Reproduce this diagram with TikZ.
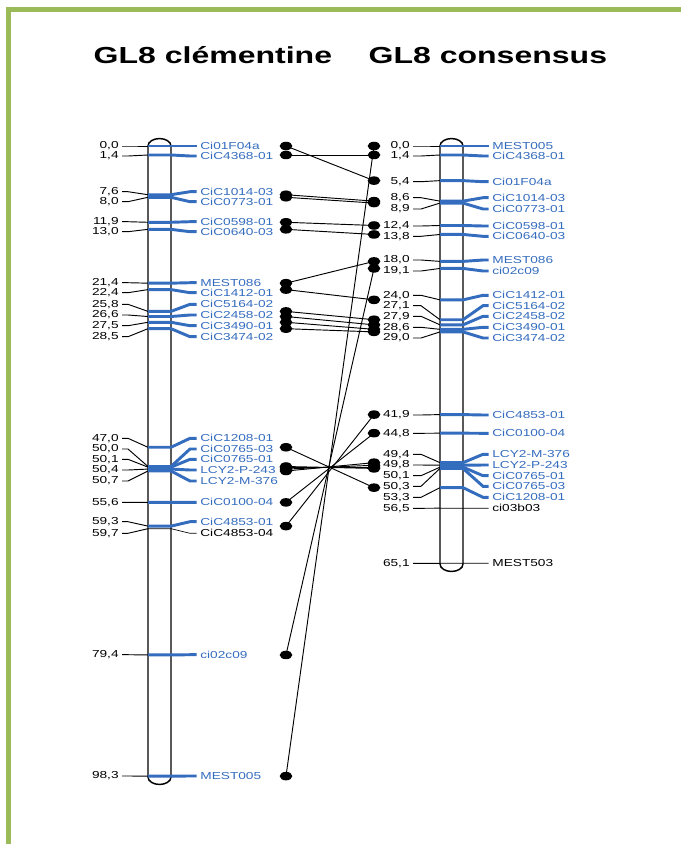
\documentclass[tikz,border=0pt]{standalone}
\usepackage{fontspec}
\setmainfont{Liberation Sans}
\usepackage{tikz}
\usetikzlibrary{shapes.geometric}
\definecolor{mapblue}{RGB}{52,108,190}
\definecolor{framegreen}{RGB}{155,187,89}

\begin{document}
\begin{tikzpicture}[x=0.75pt, y=-0.75pt,
	lbl/.style={font=\fontsize{7.6}{9}\selectfont, inner sep=0pt, xscale=1.35},
	num/.style={lbl, anchor=east},
	mkname/.style={lbl, anchor=west},
	maptitle/.style={font=\fontsize{17.4}{20}\selectfont\bfseries, inner sep=0pt, anchor=base west, xscale=1.38},
	chrom/.style={line width=1.1pt},
	tick/.style={line width=0.7pt},
	dot/.style={ellipse, fill=black, minimum width=9.5pt, minimum height=6.4pt, inner sep=0pt}]
	\useasboundingbox (0,0) rectangle (681,844);
	% frame
	\fill[framegreen] (6,7) rectangle (11,844);
	\fill[framegreen] (6,7) rectangle (681,12);
	% titles
	\node[maptitle] (title-cl) at (93.3,63.3) {GL8 clémentine};
	\node[maptitle] (title-cons) at (368.3,63.3) {GL8 consensus};
	% chromosomes
	\draw[chrom] (148,146) -- (148,777) arc[start angle=180, end angle=360, x radius=8.625pt, y radius=5.6pt]
		-- (171,146) arc[start angle=0, end angle=180, x radius=8.625pt, y radius=5.6pt] -- cycle;
	\draw[chrom] (440,146) -- (440,564) arc[start angle=180, end angle=360, x radius=8.625pt, y radius=5.6pt]
		-- (463,146) arc[start angle=0, end angle=180, x radius=8.625pt, y radius=5.6pt] -- cycle;
	% clementine markers
	\foreach \p/\ly/\lab/\mk/\col/\w in {
		0.0/146/{0,0}/Ci01F04a/mapblue/2.2pt, 1.4/156/{1,4}/CiC4368-01/mapblue/2.2pt,
		7.6/191.7/{7,6}/CiC1014-03/mapblue/2.2pt, 8.0/201.7/{8,0}/CiC0773-01/mapblue/2.2pt,
		11.9/221.7/{11,9}/CiC0598-01/mapblue/2.2pt, 13.0/231.7/{13,0}/CiC0640-03/mapblue/2.2pt,
		21.4/282.7/{21,4}/MEST086/mapblue/2.2pt, 22.4/292.7/{22,4}/CiC1412-01/mapblue/2.2pt,
		25.8/304.3/{25,8}/CiC5164-02/mapblue/2.2pt, 26.6/315/{26,6}/CiC2458-02/mapblue/2.2pt,
		27.5/325.7/{27,5}/CiC3490-01/mapblue/2.2pt, 28.5/336.7/{28,5}/CiC3474-02/mapblue/2.2pt,
		47.0/438.3/{47,0}/CiC1208-01/mapblue/2.2pt, 50.0/449/{50,0}/CiC0765-03/mapblue/2.2pt,
		50.1/459.3/{50,1}/CiC0765-01/mapblue/2.2pt, 50.4/470/{50,4}/LCY2-P-243/mapblue/2.2pt,
		50.7/481/{50,7}/LCY2-M-376/mapblue/2.2pt, 55.6/502.3/{55,6}/CiC0100-04/mapblue/2.2pt,
		59.3/521.7/{59,3}/CiC4853-01/mapblue/2.2pt, 59.7/533.3/{59,7}/CiC4853-04/black/0.5pt,
		79.4/654.7/{79,4}/ci02c09/mapblue/2.2pt, 98.3/776/{98,3}/MEST005/mapblue/2.2pt} {
		\pgfmathsetmacro\by{146+6.41*\p}
		\node[num] (lnum-\mk) at (119,\ly) {\lab};
		\node[mkname, text=\col] (lname-\mk) at (200,\ly) {\mk};
		\draw[tick] ([xshift=2.25pt]lnum-\mk.east) -- (128,\ly) -- (148,\by);
		\draw[\col, line width=\w] (148,\by) -- (171,\by) -- (190,\ly) -- ([xshift=-2.6pt]lname-\mk.west);
	}
	% consensus markers
	\foreach \p/\ly/\lab/\mk/\col/\w in {
		0.0/146/{0,0}/MEST005/mapblue/2.2pt, 1.4/156/{1,4}/CiC4368-01/mapblue/2.2pt,
		5.4/181.7/{5,4}/Ci01F04a/mapblue/2.2pt, 8.6/197.7/{8,6}/CiC1014-03/mapblue/2.2pt,
		8.9/209/{8,9}/CiC0773-01/mapblue/2.2pt, 12.4/226/{12,4}/CiC0598-01/mapblue/2.2pt,
		13.8/236.3/{13,8}/CiC0640-03/mapblue/2.2pt, 18.0/260/{18,0}/MEST086/mapblue/2.2pt,
		19.1/271/{19,1}/ci02c09/mapblue/2.2pt, 24.0/295.3/{24,0}/CiC1412-01/mapblue/2.2pt,
		27.1/305.7/{27,1}/CiC5164-02/mapblue/2.2pt, 27.9/316.3/{27,9}/CiC2458-02/mapblue/2.2pt,
		28.6/327.3/{28,6}/CiC3490-01/mapblue/2.2pt, 29.0/338/{29,0}/CiC3474-02/mapblue/2.2pt,
		41.9/415/{41,9}/CiC4853-01/mapblue/2.2pt, 44.8/433.3/{44,8}/CiC0100-04/mapblue/2.2pt,
		49.4/454.3/{49,4}/LCY2-M-376/mapblue/2.2pt, 49.8/465/{49,8}/LCY2-P-243/mapblue/2.2pt,
		50.1/475.7/{50,1}/CiC0765-01/mapblue/2.2pt, 50.3/486.3/{50,3}/CiC0765-03/mapblue/2.2pt,
		53.3/497.3/{53,3}/CiC1208-01/mapblue/2.2pt, 56.5/508.3/{56,5}/ci03b03/black/0.5pt,
		65.1/563.3/{65,1}/MEST503/black/0.5pt} {
		\pgfmathsetmacro\by{146+6.41*\p}
		\node[num] (rnum-\mk) at (410,\ly) {\lab};
		\node[mkname, text=\col] (rname-\mk) at (492,\ly) {\mk};
		\draw[tick] ([xshift=2.25pt]rnum-\mk.east) -- (421,\ly) -- (440,\by);
		\draw[\col, line width=\w] (440,\by) -- (463,\by) -- (483,\ly) -- ([xshift=-2.6pt]rname-\mk.west);
	}
	% links between the two maps
	\foreach \mk/\a/\b in {Ci01F04a/0.0/5.4, CiC4368-01/1.4/1.4, CiC1014-03/7.6/8.6,
		CiC0773-01/8.0/8.9, CiC0598-01/11.9/12.4, CiC0640-03/13.0/13.8, MEST086/21.4/18.0,
		CiC1412-01/22.4/24.0, CiC5164-02/25.8/27.1, CiC2458-02/26.6/27.9, CiC3490-01/27.5/28.6,
		CiC3474-02/28.5/29.0, CiC1208-01/47.0/53.3, CiC0765-03/50.0/50.3, CiC0765-01/50.1/50.1,
		LCY2-P-243/50.4/49.8, LCY2-M-376/50.7/49.4, CiC0100-04/55.6/44.8, CiC4853-01/59.3/41.9,
		ci02c09/79.4/19.1, MEST005/98.3/0.0} {
		\node[dot] (ldot-\mk) at (286,{146+6.41*\a}) {};
		\node[dot] (rdot-\mk) at (374,{146+6.41*\b}) {};
		\draw[tick] (ldot-\mk.center) -- (rdot-\mk.center);
	}
\end{tikzpicture}
\end{document}
